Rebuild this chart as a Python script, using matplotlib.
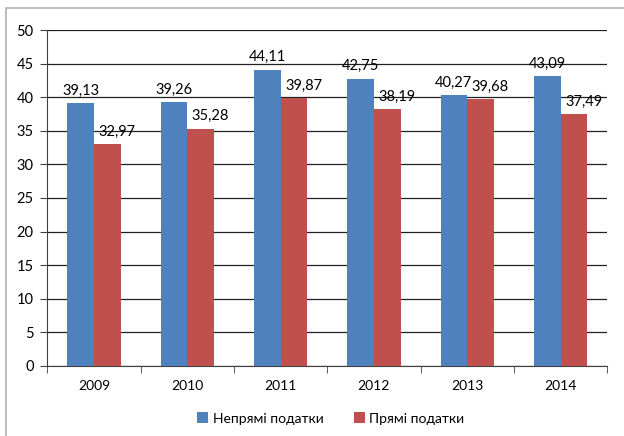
import matplotlib.pyplot as plt
import numpy as np
from matplotlib.patches import Rectangle

years = ['2009', '2010', '2011', '2012', '2013', '2014']
indirect = [39.13, 39.26, 44.11, 42.75, 40.27, 43.09]
direct = [32.97, 35.28, 39.87, 38.19, 39.68, 37.49]

plt.rcParams['font.family'] = ['Lato', 'DejaVu Sans']

fig = plt.figure(figsize=(6.24, 4.36), dpi=100)
ax = fig.add_axes([0.076, 0.161, 0.897, 0.77])

# light grey frame around the whole chart
fig.patches.append(Rectangle((6 / 624, -0.05), 1.1, 1 - 8 / 436 + 0.05,
                             transform=fig.transFigure, fill=False,
                             edgecolor='#b0b0b0', linewidth=1.2))

x = np.arange(len(years))
w = 1 / 3.5
b1 = ax.bar(x - w / 2, indirect, w, color='#4f81bd', label='Непрямі податки', zorder=3)
b2 = ax.bar(x + w / 2, direct, w, color='#c0504d', label='Прямі податки', zorder=3)

for rect, v in zip(b1, indirect):
    ax.annotate(f'{v:.2f}'.replace('.', ','), (rect.get_x() + rect.get_width() / 2, v),
                xytext=(0, 4), textcoords='offset points', ha='center', va='bottom',
                fontsize=10.5)
for rect, v in zip(b2, direct):
    ax.annotate(f'{v:.2f}'.replace('.', ','), (rect.get_x() + rect.get_width() / 2, v),
                xytext=(7, 4), textcoords='offset points', ha='center', va='bottom',
                fontsize=10.5)

ax.set_xlim(-0.5, len(years) - 0.5)
ax.set_ylim(0, 50)
ax.set_yticks(range(0, 51, 5))
ax.set_xticks(x)
ax.set_xticklabels(years)
ax.set_xticks(np.arange(-0.5, len(years), 1), minor=True)
ax.tick_params(axis='x', which='major', length=0, pad=10, labelsize=10)
ax.tick_params(axis='x', which='minor', length=5, color='#404040')
ax.tick_params(axis='y', length=5, color='#404040', labelsize=10.5, pad=5)

ax.yaxis.grid(True, color='#202020', linewidth=0.9, zorder=0)
for s in ['top', 'right']:
    ax.spines[s].set_visible(False)
ax.spines['left'].set_color('#404040')
ax.spines['bottom'].set_color('#404040')

fig.legend(loc='center', bbox_to_anchor=(0.53, 0.04), ncol=2, frameon=False,
           fontsize=10, handlelength=0.8, handleheight=0.8, columnspacing=2.2,
           handletextpad=0.3)

fig.savefig('out.png', dpi=100)
